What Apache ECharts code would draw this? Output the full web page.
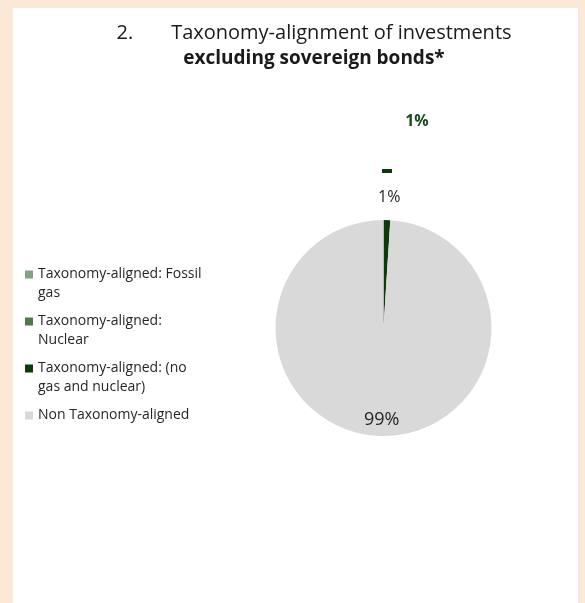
<!DOCTYPE html>
<html><head><meta charset="utf-8">
<script src="https://cdn.jsdelivr.net/npm/echarts@6/dist/echarts.min.js"></script>
<style>html,body{margin:0;padding:0;background:#FBE9D8;} #c{width:585px;height:603px;}</style>
</head><body><div id="c"></div>
<script>
const categories = ['Taxonomy-aligned: Fossil gas', 'Taxonomy-aligned: Nuclear', 'Taxonomy-aligned: (no gas and nuclear)', 'Non Taxonomy-aligned'];
const values = [0, 0, 1, 99];
const colors = ['#84A383', '#4F7A4F', '#0B3A0B', '#D9D9D9'];
const legendLines = ['Taxonomy-aligned: Fossil\ngas', 'Taxonomy-aligned:\nNuclear', 'Taxonomy-aligned: (no\ngas and nuclear)', 'Non Taxonomy-aligned\n\u00a0'];
const titleNumber = '2.';
const titleLine1 = 'Taxonomy-alignment of investments';
const titleLine2 = 'excluding sovereign bonds*';
const alignedTotalLabel = '1%';

const FONT = 'Open Sans';
// legend icon: 8px square aligned with the first text line of a two-line item
const ICON_TOP = 'path://M0,0H8V8H0Z M0,27H0.01V27.01H0Z';

const chart = echarts.init(document.getElementById('c'), null, {renderer: 'canvas'});
chart.setOption({
  animation: false,
  backgroundColor: 'transparent',
  graphic: [
    {type: 'rect', shape: {x: 13, y: 8, width: 565, height: 600}, style: {fill: '#ffffff'}, silent: true},
    {type: 'text', x: 417, y: 121, style: {text: alignedTotalLabel, font: 'bold 16px "' + FONT + '"', fill: '#1F4A1F', align: 'center', verticalAlign: 'middle'}, silent: true},
    {type: 'rect', shape: {x: 382, y: 169, width: 10, height: 4}, style: {fill: '#0B3A0B'}, silent: true}
  ],
  title: {
    text: '{n|' + titleNumber + '}{g|}{t|' + titleLine1 + '}\n{b|' + titleLine2 + '}',
    left: 314, top: 21, padding: 0, textAlign: 'center',
    textStyle: {
      fontFamily: FONT, fontSize: 20, fontWeight: 'normal', lineHeight: 25, color: '#1a1a1a',
      rich: {
        n: {fontFamily: FONT, fontSize: 20, fontWeight: 'normal', lineHeight: 25, color: '#1a1a1a'},
        g: {width: 38, lineHeight: 25},
        t: {fontFamily: FONT, fontSize: 20, fontWeight: 'normal', lineHeight: 25, color: '#1a1a1a'},
        b: {fontFamily: FONT, fontSize: 19, lineHeight: 25, fontWeight: 'bold', color: '#1a1a1a'}
      }
    }
  },
  legend: {
    orient: 'vertical', left: 25, top: 265, padding: 0, itemWidth: 8, itemHeight: 27, itemGap: 9,
    selectedMode: false,
    icon: ICON_TOP,
    data: categories,
    formatter: n => legendLines[categories.indexOf(n)],
    textStyle: {fontFamily: FONT, fontSize: 14, lineHeight: 19, color: '#262626'}
  },
  series: [{
    type: 'pie',
    center: [383.5, 328],
    radius: [0, 108],
    startAngle: 90,
    clockwise: true,
    avoidLabelOverlap: false,
    emphasis: {disabled: true},
    color: colors,
    itemStyle: {borderWidth: 0},
    label: {position: 'inside', formatter: '{c}%', fontFamily: FONT, color: '#262626', fontSize: 16},
    labelLine: {show: false},
    labelLayout: function (p) {
      if (p.dataIndex === 2) return {dx: 4, dy: -74};
      if (p.dataIndex === 3) return {dy: 35};
      return {};
    },
    data: categories.map((n, i) => ({
      name: n, value: values[i],
      label: values[i] === 0 ? {show: false} : (i === 3 ? {fontSize: 18} : {})
    }))
  }]
});
</script></body></html>
